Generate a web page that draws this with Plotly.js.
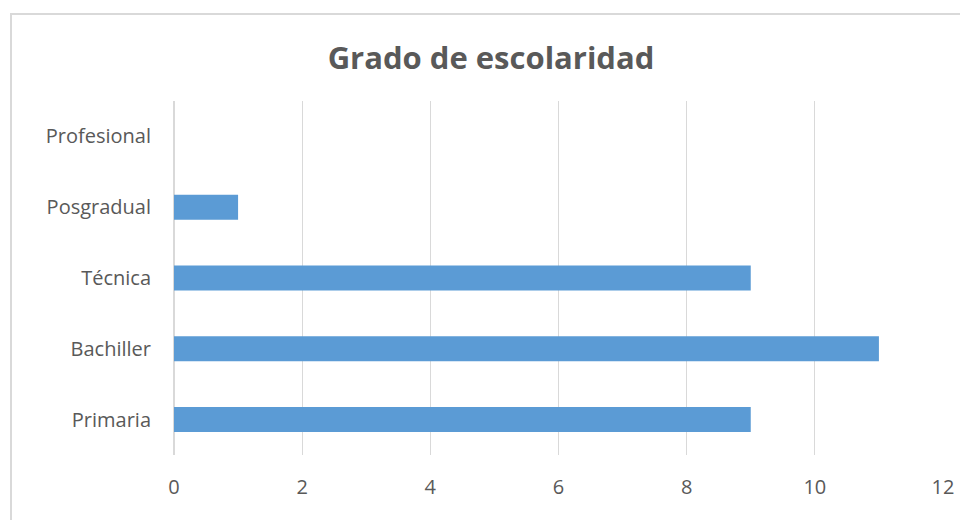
<!DOCTYPE html>
<html>
<head>
<meta charset="utf-8">
<script src="https://cdn.plot.ly/plotly-3.0.1.min.js"></script>
<style>
html,body{margin:0;padding:0;background:#fff;}
#wrap{position:relative;width:960px;height:520px;overflow:hidden;}
#chart{position:absolute;left:0;top:0;width:960px;height:520px;}
#frame{position:absolute;left:10px;top:13px;width:1000px;height:600px;border:2px solid #d9d9d9;pointer-events:none;}
</style>
</head>
<body>
<div id="wrap"><div id="chart"></div><div id="frame"></div></div>
<script>
const categories = ["Primaria", "Bachiller", "Técnica", "Posgradual", "Profesional"];
const values = [9, 11, 9, 1, 0];
const xTicks = [0, 2, 4, 6, 8, 10, 12];

const trace = {
  type: "bar",
  orientation: "h",
  y: categories,
  x: values,
  marker: {color: "#5B9BD5", line: {width: 0}},
  hoverinfo: "x+y"
};

const font = "'Open Sans', 'Liberation Sans', sans-serif";
const layout = {
  width: 960, height: 520,
  margin: {l: 174, r: 17, t: 101, b: 65},
  paper_bgcolor: "rgba(0,0,0,0)",
  plot_bgcolor: "rgba(0,0,0,0)",
  bargap: 0.647,
  showlegend: false,
  title: {
    text: "<b>Grado de escolaridad</b>",
    font: {family: font, size: 31, color: "#595959"},
    x: 491/960, xanchor: "center", xref: "container",
    y: 1 - 58/520, yanchor: "middle", yref: "container"
  },
  xaxis: {
    range: [0, 12],
    tickvals: xTicks,
    ticktext: xTicks.map(String),
    showgrid: true, gridcolor: "#d9d9d9", gridwidth: 1.3,
    zeroline: true, zerolinecolor: "#d9d9d9", zerolinewidth: 1.3,
    showline: false, ticks: "",
    ticklabelstandoff: 18,
    tickfont: {family: font, size: 20, color: "#595959"},
    fixedrange: true
  },
  yaxis: {
    type: "category",
    categoryorder: "array", categoryarray: categories,
    showgrid: false, zeroline: false, showline: false, ticks: "",
    ticklabelstandoff: 22,
    tickfont: {family: font, size: 20, color: "#595959"},
    fixedrange: true
  }
};

Plotly.newPlot("chart", [trace], layout, {displayModeBar: false, staticPlot: true});
</script>
</body>
</html>
